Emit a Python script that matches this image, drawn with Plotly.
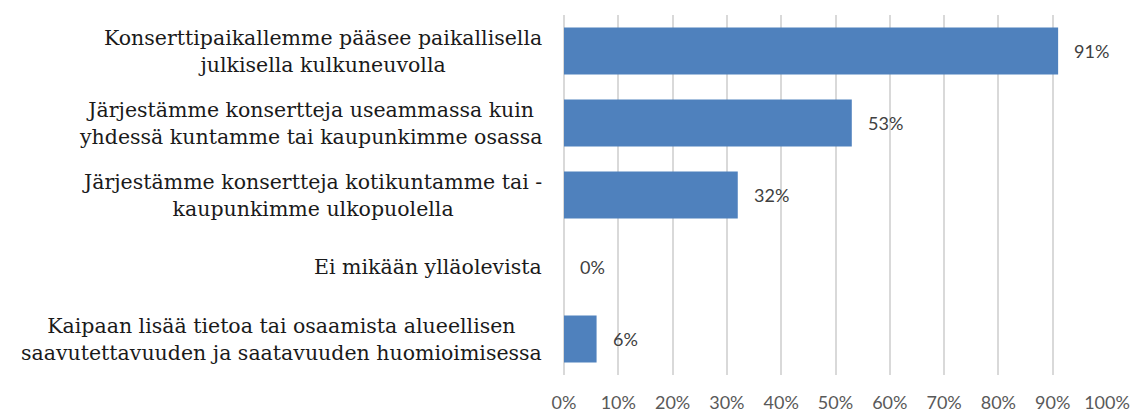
import plotly.graph_objects as go

# Data
categories = [
    "Konserttipaikallemme pääsee paikallisella<br>julkisella kulkuneuvolla",
    "Järjestämme konsertteja useammassa kuin<br>yhdessä kuntamme tai kaupunkimme osassa",
    "Järjestämme konsertteja kotikuntamme tai -<br>kaupunkimme ulkopuolella",
    "Ei mikään ylläolevista",
    "Kaipaan lisää tietoa tai osaamista alueellisen<br>saavutettavuuden ja saatavuuden huomioimisessa",
]
values = [91, 53, 32, 0, 6]
value_labels = ["91%", "53%", "32%", "0%", "6%"]
tick_vals = list(range(0, 101, 10))
tick_text = [f"{v}%" for v in tick_vals]

fig = go.Figure()
fig.add_trace(go.Bar(
    x=values,
    y=categories,
    orientation='h',
    marker=dict(color='#4f81bd', line=dict(width=0)),
    hoverinfo='skip',
))

# category labels: centred text block, right-aligned next to the axis
for cat in categories:
    fig.add_annotation(
        x=0, xref='paper', y=cat, yref='y',
        text=cat, showarrow=False,
        xanchor='right', align='center', xshift=-20,
        font=dict(family='DejaVu Serif', size=20.5, color='#1a1a1a'),
    )

# value labels just past the bar ends
for cat, v, lab in zip(categories, values, value_labels):
    fig.add_annotation(
        x=v, y=cat, text=lab, showarrow=False,
        xanchor='left', xshift=14,
        font=dict(family='Lato', size=18, color='#404040'),
    )

# page body puts the figure at (8, 8), margins are trimmed for that
fig.update_layout(
    width=1137, height=414,
    margin=dict(l=556, r=38, t=7, b=47),
    plot_bgcolor='white', paper_bgcolor='white',
    bargap=0.35,
    showlegend=False,
)
fig.update_xaxes(
    range=[0, 100], tickvals=tick_vals, ticktext=tick_text,
    showgrid=True, gridcolor='#d9d9d9', gridwidth=1.5,
    zeroline=True, zerolinecolor='#d9d9d9', zerolinewidth=1.5,
    showline=False, ticks='', ticklabelstandoff=15, automargin=False,
    tickfont=dict(family='Lato', size=18, color='#595959'),
)
fig.update_yaxes(
    autorange='reversed', showticklabels=False, automargin=False,
    showgrid=False, zeroline=False, showline=False,
)

fig.write_html("out.html")
